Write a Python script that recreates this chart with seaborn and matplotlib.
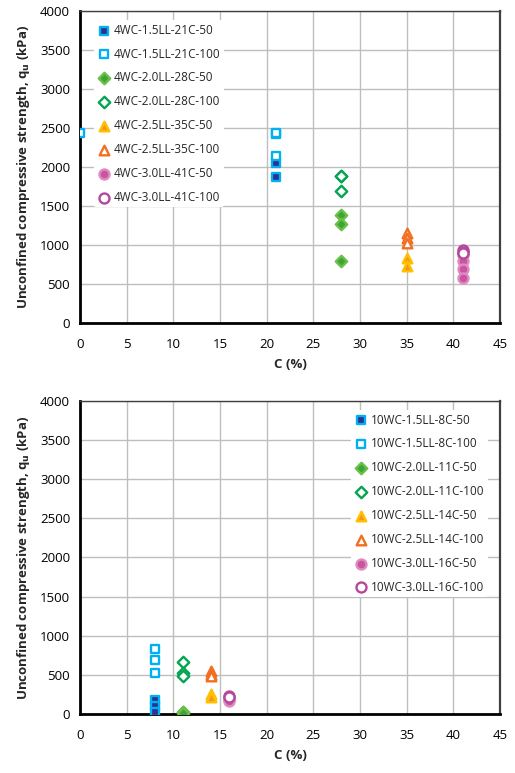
import numpy as np
import pandas as pd
import matplotlib
matplotlib.use("Agg")
import matplotlib.pyplot as plt
from matplotlib.ticker import MultipleLocator
import seaborn as sns

# top chart: 4WC series (C %, qu kPa)
top_labels = ["4WC-1.5LL-21C-50", "4WC-1.5LL-21C-100", "4WC-2.0LL-28C-50", "4WC-2.0LL-28C-100",
              "4WC-2.5LL-35C-50", "4WC-2.5LL-35C-100", "4WC-3.0LL-41C-50", "4WC-3.0LL-41C-100"]
top_x = [[21, 21, 21], [0, 21, 21], [28, 28, 28], [28, 28, 28],
         [35, 35], [35, 35, 35], [41, 41, 41, 41], [41, 41, 41]]
top_y = [[2420, 2050, 1875], [2440, 2440, 2140], [1385, 1265, 795], [1890, 1880, 1690],
         [840, 735], [1160, 1095, 1030], [870, 790, 695, 575], [935, 915, 895]]

# bottom chart: 10WC series
bot_labels = ["10WC-1.5LL-8C-50", "10WC-1.5LL-8C-100", "10WC-2.0LL-11C-50", "10WC-2.0LL-11C-100",
              "10WC-2.5LL-14C-50", "10WC-2.5LL-14C-100", "10WC-3.0LL-16C-50", "10WC-3.0LL-16C-100"]
bot_x = [[8, 8, 8], [8, 8, 8], [11, 11, 11], [11, 11, 11],
         [14, 14], [14, 14, 14], [16, 16, 16], [16, 16]]
bot_y = [[180, 100, 25], [830, 695, 520], [30, 20, 15], [670, 530, 485],
         [250, 215], [545, 515, 490], [210, 185, 160], [235, 215]]

# style per series position: marker, face, edge
markers = ["s", "s", "D", "D", "^", "^", "o", "o"]
faces = ["#2E3192", "white", "#3DA535", "white", "#F7941D", "white", "#C9559F", "white"]
edges = ["#00B0F0", "#00B0F0", "#6CC04A", "#00A650", "#FFC000", "#F26F21", "#E08CC3", "#B5489E"]
sizes = [40, 40, 34, 34, 48, 48, 52, 52]

sns.set_style("white")
plt.rcParams["font.family"] = ["Open Sans", "DejaVu Sans"]

fig = plt.figure(figsize=(5.15, 7.73), dpi=100)
ax1 = fig.add_axes([0.155, 0.582, 0.816, 0.4036])
ax2 = fig.add_axes([0.155, 0.0763, 0.816, 0.405])


def draw(ax, labels, xs, ys):
    for i in range(len(labels)):
        df = pd.DataFrame({"C": xs[i], "qu": ys[i]})
        sns.scatterplot(data=df, x="C", y="qu", ax=ax, marker=markers[i], s=sizes[i],
                        color=faces[i], edgecolor=edges[i], linewidth=1.7,
                        label=labels[i], zorder=3)
    ax.set_xlim(0, 45)
    ax.set_ylim(0, 4000)
    ax.xaxis.set_major_locator(MultipleLocator(5))
    ax.xaxis.set_minor_locator(MultipleLocator(1))
    ax.yaxis.set_major_locator(MultipleLocator(500))
    ax.yaxis.set_minor_locator(MultipleLocator(100))
    ax.grid(True, which="major", color="#BEBEBE", linewidth=1.0, zorder=0)
    ax.set_axisbelow(True)
    ax.tick_params(which="major", direction="inout", length=7, width=1.3, labelsize=9.5,
                   colors="black", top=False, right=False)
    ax.tick_params(which="minor", direction="in", length=4, width=1.0, top=False, right=False)
    ax.tick_params(axis="x", pad=7)
    for s in ["bottom", "left"]:
        ax.spines[s].set_color("black")
        ax.spines[s].set_linewidth(2.0)
    ax.spines["top"].set_color("#404040")
    ax.spines["top"].set_linewidth(1.0)
    ax.spines["right"].set_color("#404040")
    ax.spines["right"].set_linewidth(1.6)
    ax.set_xlabel("C (%)", fontsize=9.5, fontweight="bold", labelpad=5)
    ax.set_ylabel("Unconfined compressive strength, q$_\\mathbf{u}$ (kPa)",
                  fontsize=9.5, fontweight="bold", labelpad=6)


draw(ax1, top_labels, top_x, top_y)
draw(ax2, bot_labels, bot_x, bot_y)

leg_kw = dict(fontsize=8.5, labelspacing=0.92, handletextpad=0.25, handlelength=1.1,
              borderpad=0.3, frameon=True, facecolor="white", edgecolor="none", framealpha=1)
ax1.legend(loc="upper left", bbox_to_anchor=(0.02, 0.99), **leg_kw)
ax2.legend(loc="upper right", bbox_to_anchor=(0.985, 0.99), **leg_kw)

fig.savefig("out.png", dpi=100)
